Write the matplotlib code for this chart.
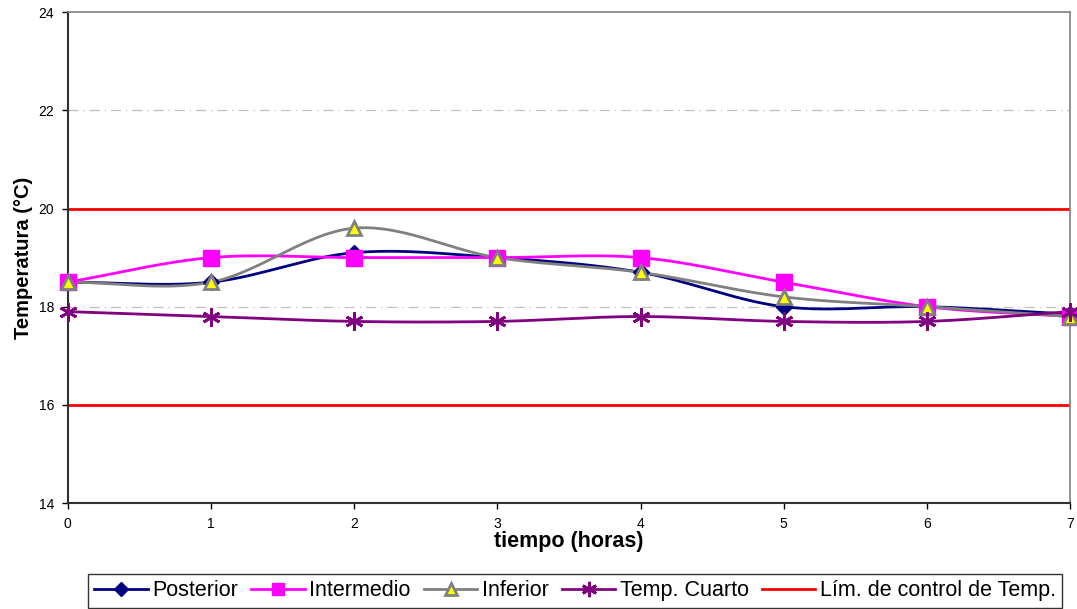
import matplotlib.pyplot as plt
import numpy as np

plt.rcParams['font.family'] = ['Liberation Sans', 'DejaVu Sans']

horas = [0, 1, 2, 3, 4, 5, 6, 7]
posterior = [18.5, 18.5, 19.1, 19.0, 18.7, 18.0, 18.0, 17.85]
intermedio = [18.5, 19.0, 19.0, 19.0, 19.0, 18.5, 18.0, 17.8]
inferior = [18.5, 18.5, 19.6, 19.0, 18.7, 18.2, 18.0, 17.8]
temp_cuarto = [17.9, 17.8, 17.7, 17.7, 17.8, 17.7, 17.7, 17.9]
lim_control = [16, 20]


def suavizar(x, y, n=30):
    # curva Catmull-Rom por los puntos (como la línea suavizada de Excel)
    x = np.asarray(x, float)
    y = np.asarray(y, float)
    px = np.concatenate([[2 * x[0] - x[1]], x, [2 * x[-1] - x[-2]]])
    py = np.concatenate([[2 * y[0] - y[1]], y, [2 * y[-1] - y[-2]]])
    t = np.linspace(0, 1, n)
    xs, ys = [], []
    for i in range(1, len(px) - 2):
        for p, out in ((px, xs), (py, ys)):
            p0, p1, p2, p3 = p[i - 1], p[i], p[i + 1], p[i + 2]
            out.append(0.5 * (2 * p1 + (-p0 + p2) * t
                              + (2 * p0 - 5 * p1 + 4 * p2 - p3) * t ** 2
                              + (-p0 + 3 * p1 - 3 * p2 + p3) * t ** 3))
    return np.concatenate(xs), np.concatenate(ys)


fig = plt.figure(figsize=(10.77, 6.09), dpi=100)
ax = fig.add_axes([0.063, 0.174, 0.9305, 0.806])

for yg in [18, 22]:
    ax.axhline(yg, color='#c0c0c0', lw=0.9, ls=(0, (8, 4, 1, 4)), zorder=1)

series = [
    (posterior, 'Posterior', '#000080', dict(marker='D', ms=8, mfc='#000080', mec='#000080')),
    (intermedio, 'Intermedio', '#ff00ff', dict(marker='s', ms=11, mfc='#ff00ff', mec='#ff00ff')),
    (inferior, 'Inferior', '#808080', dict(marker='^', ms=10, mfc='#ffff00', mec='#808080', mew=2)),
    (temp_cuarto, 'Temp. Cuarto', '#800080', dict(marker=(6, 2, 0), ms=13, mec='#800080', mew=2)),
]

handles = []
for vals, nombre, color, mk in series:
    xs, ys = suavizar(horas, vals)
    ax.plot(xs, ys, color=color, lw=2, zorder=3)
    ax.plot(horas, vals, ls='none', zorder=4, clip_on=False, **mk)
    handles.append(plt.Line2D([], [], color=color, lw=2, label=nombre,
                              **{**mk, 'ms': mk['ms'] * 0.85}))

for lim in lim_control:
    ax.axhline(lim, color='#ff0000', lw=2, zorder=2)
handles.append(plt.Line2D([], [], color='#ff0000', lw=2, label='Lím. de control de Temp.'))

ax.set_xlim(0, 7)
ax.set_ylim(14, 24)
ax.set_xticks(horas)
ax.set_yticks(range(14, 25, 2))
ax.tick_params(labelsize=10, length=4, width=1, pad=6)
ax.set_xlabel('tiempo (horas)', fontsize=15.5, fontweight='bold', labelpad=0)
ax.set_ylabel('Temperatura (°C)', fontsize=14.5, fontweight='bold', labelpad=4)
for s in ['left', 'bottom']:
    ax.spines[s].set_color('#303030')
    ax.spines[s].set_linewidth(1.5)
for s in ['top', 'right']:
    ax.spines[s].set_color('#808080')
    ax.spines[s].set_linewidth(1.2)

leg = fig.legend(handles=handles, loc='lower center', bbox_to_anchor=(0.534, 0.002),
                 ncol=5, fontsize=15.5, frameon=True, fancybox=False, edgecolor='black',
                 handlelength=2.5, handletextpad=0.2, columnspacing=0.6,
                 borderpad=0.3, borderaxespad=0)
leg.get_frame().set_linewidth(1)

fig.savefig('out.png', dpi=100)
